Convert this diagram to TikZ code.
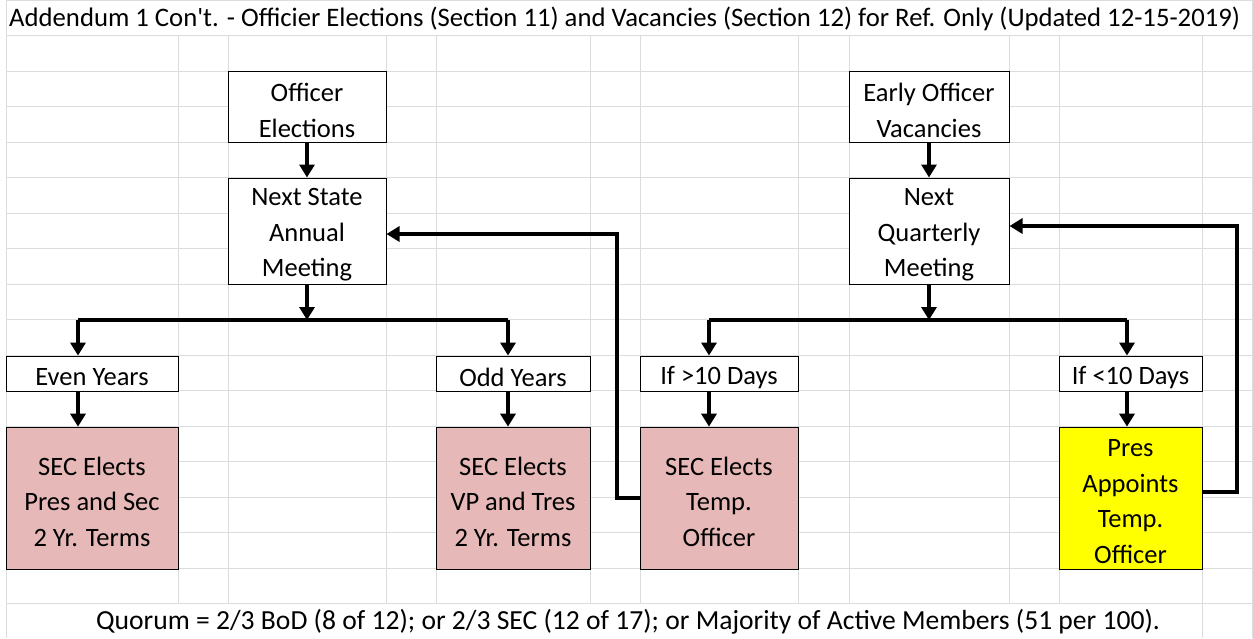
\documentclass[tikz,border=0pt]{standalone}
\usepackage{fontspec}
\setmainfont{Carlito}[Ligatures=TeXOff]
\usetikzlibrary{arrows.meta}
\definecolor{gridc}{RGB}{218,220,221}
\definecolor{pinkc}{RGB}{230,184,183}
\definecolor{yellowc}{RGB}{255,255,0}
\tikzset{
  box/.style={draw=black, line width=1pt, fill=white, inner sep=0pt},
  pinkbox/.style={box, fill=pinkc},
  yellowbox/.style={box, fill=yellowc},
  btext/.style={inner sep=0pt, align=center, yshift=-3.5pt, font=\fontsize{26.5}{35.55}\selectfont},
  conn/.style={line width=4pt, line join=miter, -{Triangle[length=13pt,width=15pt]}},
  plainline/.style={line width=4pt, line join=miter},
  gridline/.style={draw=gridc, line width=1pt}
}
\begin{document}
\begin{tikzpicture}[x=1pt,y=-1pt]
\useasboundingbox (0,0) rectangle (1253,638);
\fill[white] (0,0) rectangle (1253,638);
% grid
\foreach \k in {0,...,16} {
  \draw[gridline] (6,35.5+\k*35.53) -- (1252,35.5+\k*35.53);
}
\draw[gridline] (6,0.5) -- (1252,0.5);
\foreach \x in {178,228,386,436,590,640,798,849,1009,1059} {
  \draw[gridline] (\x,35.5) -- (\x,604);
}
\draw[gridline] (1202,35.5) -- (1202,638);
\draw[gridline] (6,0) -- (6,638);
\draw[gridline] (1252,0) -- (1252,638);
% texts
\node[anchor=west, inner sep=0pt, font=\fontsize{26.7}{30}\selectfont] (title) at (9,19) {Addendum 1 Con't. - Officier Elections (Section 11) and Vacancies (Section 12) for Ref. Only (Updated 12-15-2019)};
\node[inner sep=0pt, font=\fontsize{27.6}{30}\selectfont] (quorum) at (628,622) {Quorum = 2/3 BoD (8 of 12); or 2/3 SEC (12 of 17); or Majority of Active Members (51 per 100).};
% left boxes
\node[box, minimum width=158pt, minimum height=71.1pt] (oe) at (307,106.8) {};
\node[btext] (oe-t) at (oe) {Officer\\Elections};
\node[box, minimum width=158pt, minimum height=106.6pt] (nsa) at (307,231.3) {};
\node[btext] (nsa-t) at (nsa) {Next State\\Annual\\Meeting};
\node[box, minimum width=172pt, minimum height=35.5pt] (ey) at (92,373.8) {};
\node[btext] (ey-t) at (ey) {Even Years};
\node[box, minimum width=154pt, minimum height=35.5pt] (oy) at (513,373.8) {};
\node[btext] (oy-t) at (oy) {Odd Years};
\node[pinkbox, minimum width=172pt, minimum height=142.1pt] (ep) at (92,498.2) {};
\node[btext] (ep-t) at (ep) {SEC Elects\\Pres and Sec\\2 Yr. Terms};
\node[pinkbox, minimum width=154pt, minimum height=142.1pt] (op) at (513,498.2) {};
\node[btext] (op-t) at (op) {SEC Elects\\VP and Tres\\2 Yr. Terms};
% right boxes
\node[box, minimum width=160pt, minimum height=71.1pt] (eov) at (929,106.8) {};
\node[btext] (eov-t) at (eov) {Early Officer\\Vacancies};
\node[box, minimum width=160pt, minimum height=106.6pt] (nqm) at (929,231.3) {};
\node[btext] (nqm-t) at (nqm) {Next\\Quarterly\\Meeting};
\node[box, minimum width=158pt, minimum height=35.5pt] (ifg) at (719,373.8) {};
\node[btext] (ifg-t) at (ifg) {If >10 Days};
\node[box, minimum width=143pt, minimum height=35.5pt] (ifl) at (1130.5,373.8) {};
\node[btext] (ifl-t) at (ifl) {If <10 Days};
\node[pinkbox, minimum width=158pt, minimum height=142.1pt] (ste) at (719,498.2) {};
\node[btext] (ste-t) at (ste) {SEC Elects\\Temp.\\Officer};
\node[yellowbox, minimum width=143pt, minimum height=142.1pt] (pa) at (1130.5,498.2) {};
\node[btext] (pa-t) at (pa) {Pres\\Appoints\\Temp.\\Officer};
% connector coordinates
\coordinate (j1) at (307,320);
\coordinate (ea) at (78,320);
\coordinate (oa) at (508,320);
\coordinate (r1) at (617,234);
\coordinate (j2) at (929,320);
\coordinate (ga) at (709,320);
\coordinate (la) at (1127,320);
\coordinate (r2) at (1237,492);
\coordinate (r2t) at (1237,226);
% left connectors
\draw[conn] (oe) -- (nsa);
\draw[conn] (nsa) -- (j1);
\draw[plainline] (ea) -- (oa);
\draw[conn] (ea) -- (ea |- ey.north);
\draw[conn] (oa) -- (oa |- oy.north);
\draw[conn] (ea |- ey.south) -- (ea |- ep.north);
\draw[conn] (oa |- oy.south) -- (oa |- op.north);
\draw[conn] (ste.west) -| (r1) -- (r1 -| nsa.east);
% right connectors
\draw[conn] (eov) -- (nqm);
\draw[conn] (nqm) -- (j2);
\draw[plainline] (ga) -- (la);
\draw[conn] (ga) -- (ga |- ifg.north);
\draw[conn] (la) -- (la |- ifl.north);
\draw[conn] (ga |- ifg.south) -- (ga |- ste.north);
\draw[conn] (la |- ifl.south) -- (la |- pa.north);
\draw[conn] (r2 -| pa.east) -- (r2) -- (r2t) -- (r2t -| nqm.east);
\end{tikzpicture}
\end{document}
